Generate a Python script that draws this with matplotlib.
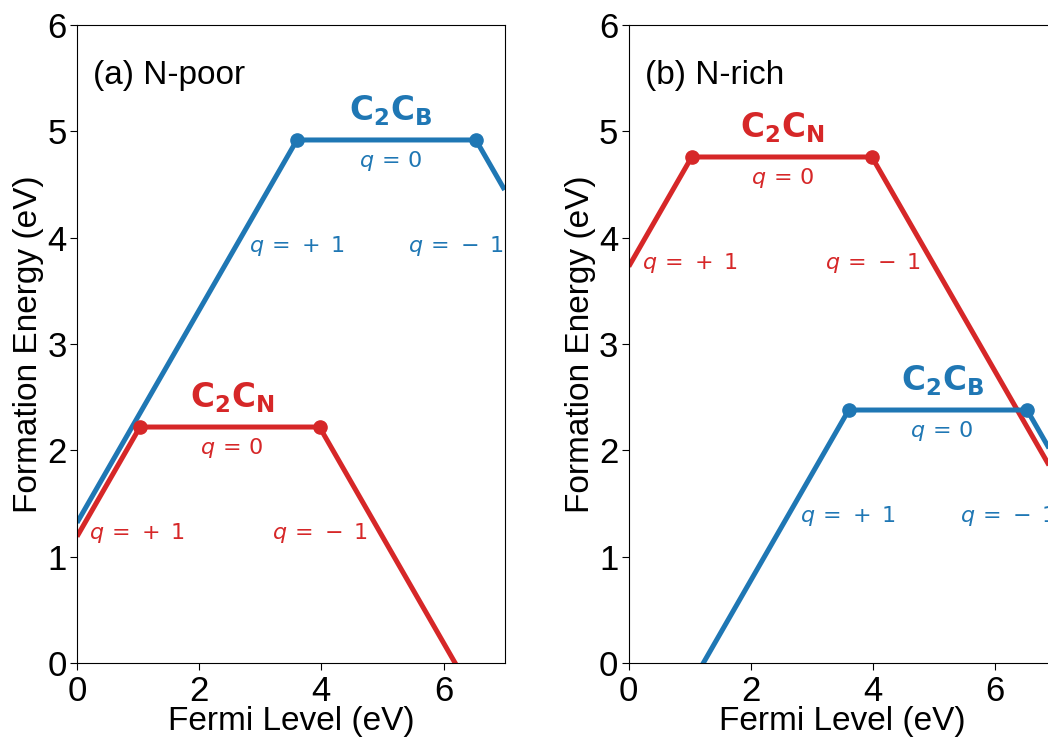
import numpy as np
import matplotlib
matplotlib.use("Agg")
import matplotlib.pyplot as plt

plt.rcParams["font.family"] = ["Liberation Sans", "DejaVu Sans"]
plt.rcParams["mathtext.fontset"] = "dejavusans"

BLUE = "#1f77b4"
RED = "#d62728"

charges = [1, 0, -1]

# formation energy at E_F = 0 for each charge state (+1, 0, -1), in eV
c2cb_poor = [1.32, 4.92, 11.45]
c2cn_poor = [1.19, 2.22, 6.19]
c2cb_rich = [-1.22, 2.38, 8.90]
c2cn_rich = [3.73, 4.76, 8.74]

panel_titles = ["(a) N-poor", "(b) N-rich"]
charge_labels = [r"$q\,=\,+\;1$", r"$q\,=\,0$", r"$q\,=\,-\;1$"]
xmax = 7.0


def envelope(e0):
    x = np.linspace(0, xmax, 1401)
    lines = np.array([e + q * x for e, q in zip(e0, charges)])
    return x, lines.min(axis=0)


def transitions(e0):
    # (+1/0) and (0/-1) levels, where neighbouring charge lines cross
    t1 = e0[1] - e0[0]
    t2 = e0[2] - e0[1]
    return [t1, t2], [e0[1], e0[1]]


def draw_defect(ax, e0, color, name, xq_plus, xq_mid, xq_minus):
    x, y = envelope(e0)
    ax.plot(x, y, color=color, lw=3.6, solid_capstyle="butt")
    tx, ty = transitions(e0)
    ax.plot(tx, ty, "o", color=color, ms=9.5, clip_on=False)
    flat = e0[1]
    ax.text(xq_mid, flat + 0.28, name, color=color, fontsize=23.5,
            ha="center", va="center")
    ax.text(xq_mid, flat - 0.2, charge_labels[1], color=color, fontsize=16,
            ha="center", va="center")
    ax.text(xq_plus, flat - 1.0, charge_labels[0], color=color, fontsize=16,
            ha="center", va="center")
    ax.text(xq_minus, flat - 1.0, charge_labels[2], color=color, fontsize=16,
            ha="center", va="center")


fig = plt.figure(figsize=(10.48, 7.4), dpi=100)
ax1 = fig.add_axes([0.0735, 0.104, 0.408, 0.862])
ax2 = fig.add_axes([0.600, 0.104, 0.408, 0.862])

draw_defect(ax1, c2cb_poor, BLUE, r"$\mathbf{C_2C_B}$", 3.6, 5.13, 6.21)
draw_defect(ax1, c2cn_poor, RED, r"$\mathbf{C_2C_N}$", 0.98, 2.54, 3.98)
draw_defect(ax2, c2cn_rich, RED, r"$\mathbf{C_2C_N}$", 1.0, 2.52, 4.0)
draw_defect(ax2, c2cb_rich, BLUE, r"$\mathbf{C_2C_B}$", 3.59, 5.13, 6.21)

for ax, title in zip([ax1, ax2], panel_titles):
    ax.set_xlim(0, xmax)
    ax.set_ylim(0, 6)
    ax.set_xticks([0, 2, 4, 6])
    ax.set_yticks(range(7))
    ax.tick_params(labelsize=25, length=5)
    ax.tick_params(axis="y", pad=2.5)
    ax.set_xlabel("Fermi Level (eV)", fontsize=24, labelpad=-1)
    ax.set_ylabel("Formation Energy (eV)", fontsize=24, labelpad=2)
    ax.text(0.26, 5.53, title, fontsize=24, ha="left", va="center")

fig.savefig("out.png", dpi=100)
